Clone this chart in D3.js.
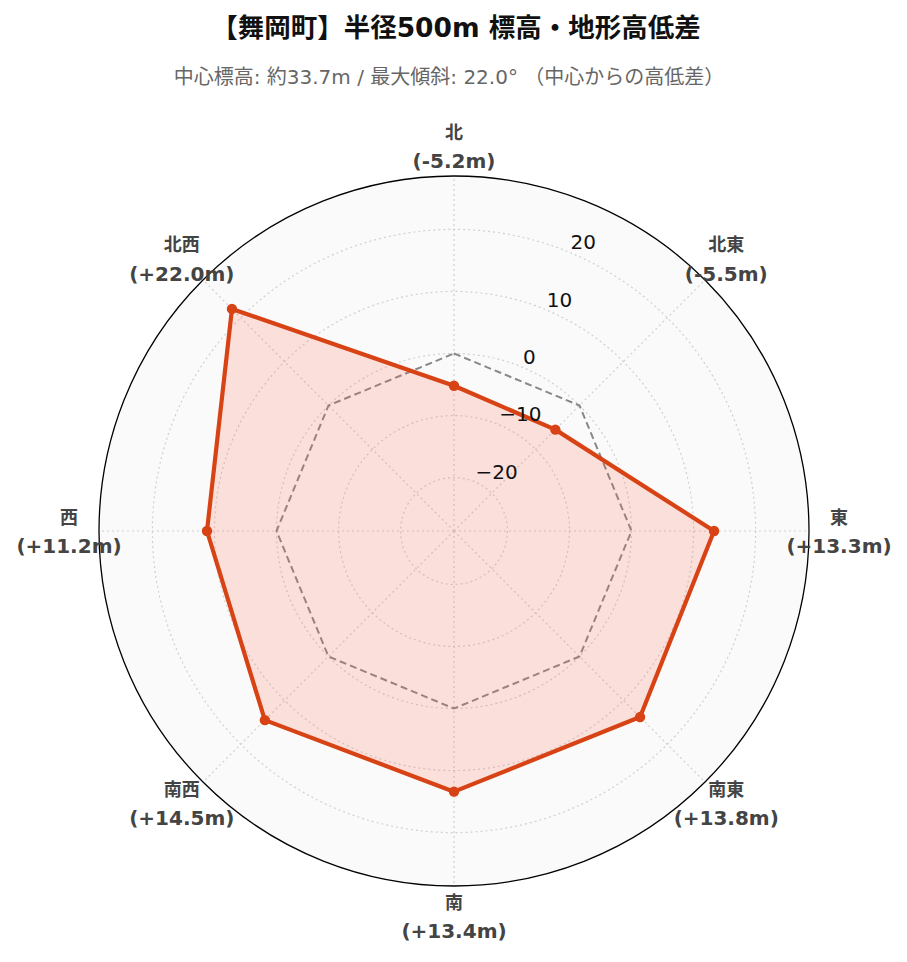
<!DOCTYPE html>
<html><head><meta charset="utf-8">
<script src="https://cdn.jsdelivr.net/npm/d3@7"></script>
<style>body{margin:0;background:#fff;} svg{display:block;}</style>
</head><body>
<script>
const directions = ["北","北東","東","南東","南","南西","西","北西"];
const diffs = [-5.2, -5.5, 13.3, 13.8, 13.4, 14.5, 11.2, 22.0];
const diffLabels = ["(-5.2m)","(-5.5m)","(+13.3m)","(+13.8m)","(+13.4m)","(+14.5m)","(+11.2m)","(+22.0m)"];
const radialTicks = [-20, -10, 0, 10, 20];
const radialRange = [-28.6, 28.6];
const titleText = "【舞岡町】半径500m 標高・地形高低差";
const subtitleText = "中心標高: 約33.7m / 最大傾斜: 22.0° （中心からの高低差）";

const FONT = "'DejaVu Sans', 'Noto Sans CJK JP', sans-serif";
const W = 907, H = 962, cx = 454, cy = 531, R = 355;
const svg = d3.select("body").append("svg").attr("width", W).attr("height", H);

const r = d3.scaleLinear().domain(radialRange).range([0, R]);
const ang = d3.scalePoint().domain(directions).range([0, 2*Math.PI*7/8]);
const pt = (a, rr) => [Math.sin(a)*rr, -Math.cos(a)*rr];

svg.append("text").attr("x", 456).attr("y", 27).attr("text-anchor","middle").attr("dominant-baseline","central")
  .style("font-family", FONT).style("font-weight","bold").style("font-size","26.5px").style("fill","#111")
  .text(titleText);
svg.append("text").attr("x", 449).attr("y", 77).attr("text-anchor","middle").attr("dominant-baseline","central")
  .style("font-family", FONT).style("font-size","20px").style("fill","#666")
  .text(subtitleText);

const g = svg.append("g").attr("transform", `translate(${cx},${cy})`);
g.append("circle").attr("r", R).attr("fill", "#fafafa");

g.selectAll("circle.grid").data(radialTicks).join("circle").attr("class","grid")
  .attr("r", d => r(d)).attr("fill","none").attr("stroke","#d0d0d0").attr("stroke-width",1.2).attr("stroke-dasharray","2,3");
g.selectAll("line.spoke").data(directions).join("line").attr("class","spoke")
  .attr("x1",0).attr("y1",0)
  .attr("x2", d => pt(ang(d), R)[0]).attr("y2", d => pt(ang(d), R)[1])
  .attr("stroke","#d0d0d0").attr("stroke-width",1.2).attr("stroke-dasharray","2,3");

const line = d3.lineRadial().angle(d => d.a).radius(d => d.r).curve(d3.curveLinearClosed);
g.append("path").datum(directions.map(d => ({a: ang(d), r: r(0)})))
  .attr("d", line).attr("fill","none").attr("stroke","#888").attr("stroke-width",2).attr("stroke-dasharray","7,4");

const pts = directions.map((d,i) => ({a: ang(d), r: r(diffs[i])}));
g.append("path").datum(pts).attr("d", line)
  .attr("fill","rgba(255,99,71,0.18)").attr("stroke","#d84315").attr("stroke-width",4.2).attr("stroke-linejoin","round");
g.selectAll("circle.pt").data(pts).join("circle").attr("class","pt")
  .attr("cx", d => pt(d.a, d.r)[0]).attr("cy", d => pt(d.a, d.r)[1]).attr("r", 5.2).attr("fill","#d84315");

g.append("circle").attr("r", R).attr("fill","none").attr("stroke","#000").attr("stroke-width",1.3);

const tickAngle = Math.PI/8;
g.selectAll("text.rt").data(radialTicks).join("text").attr("class","rt")
  .attr("x", d => pt(tickAngle, r(d))[0] + 1)
  .attr("y", d => pt(tickAngle, r(d))[1] - 10)
  .attr("dominant-baseline","central")
  .style("font-family", FONT).style("font-size","20px").style("fill","#111")
  .text(d => d < 0 ? "\u2212" + Math.abs(d) : d);

const LR = 385;
const lab = g.selectAll("g.lab").data(directions).join("g").attr("class","lab")
  .attr("transform", d => { const p = pt(ang(d), LR); return `translate(${p[0]},${p[1]})`; });
lab.append("text").attr("y", -14).attr("text-anchor","middle").attr("dominant-baseline","central")
  .style("font-family", FONT).style("font-weight","bold").style("font-size","18px").style("fill","#444")
  .text(d => d);
lab.append("text").attr("y", 15).attr("text-anchor","middle").attr("dominant-baseline","central")
  .style("font-family", FONT).style("font-weight","bold").style("font-size","20px").style("fill","#444")
  .text((d,i) => diffLabels[i]);
</script>
</body></html>
